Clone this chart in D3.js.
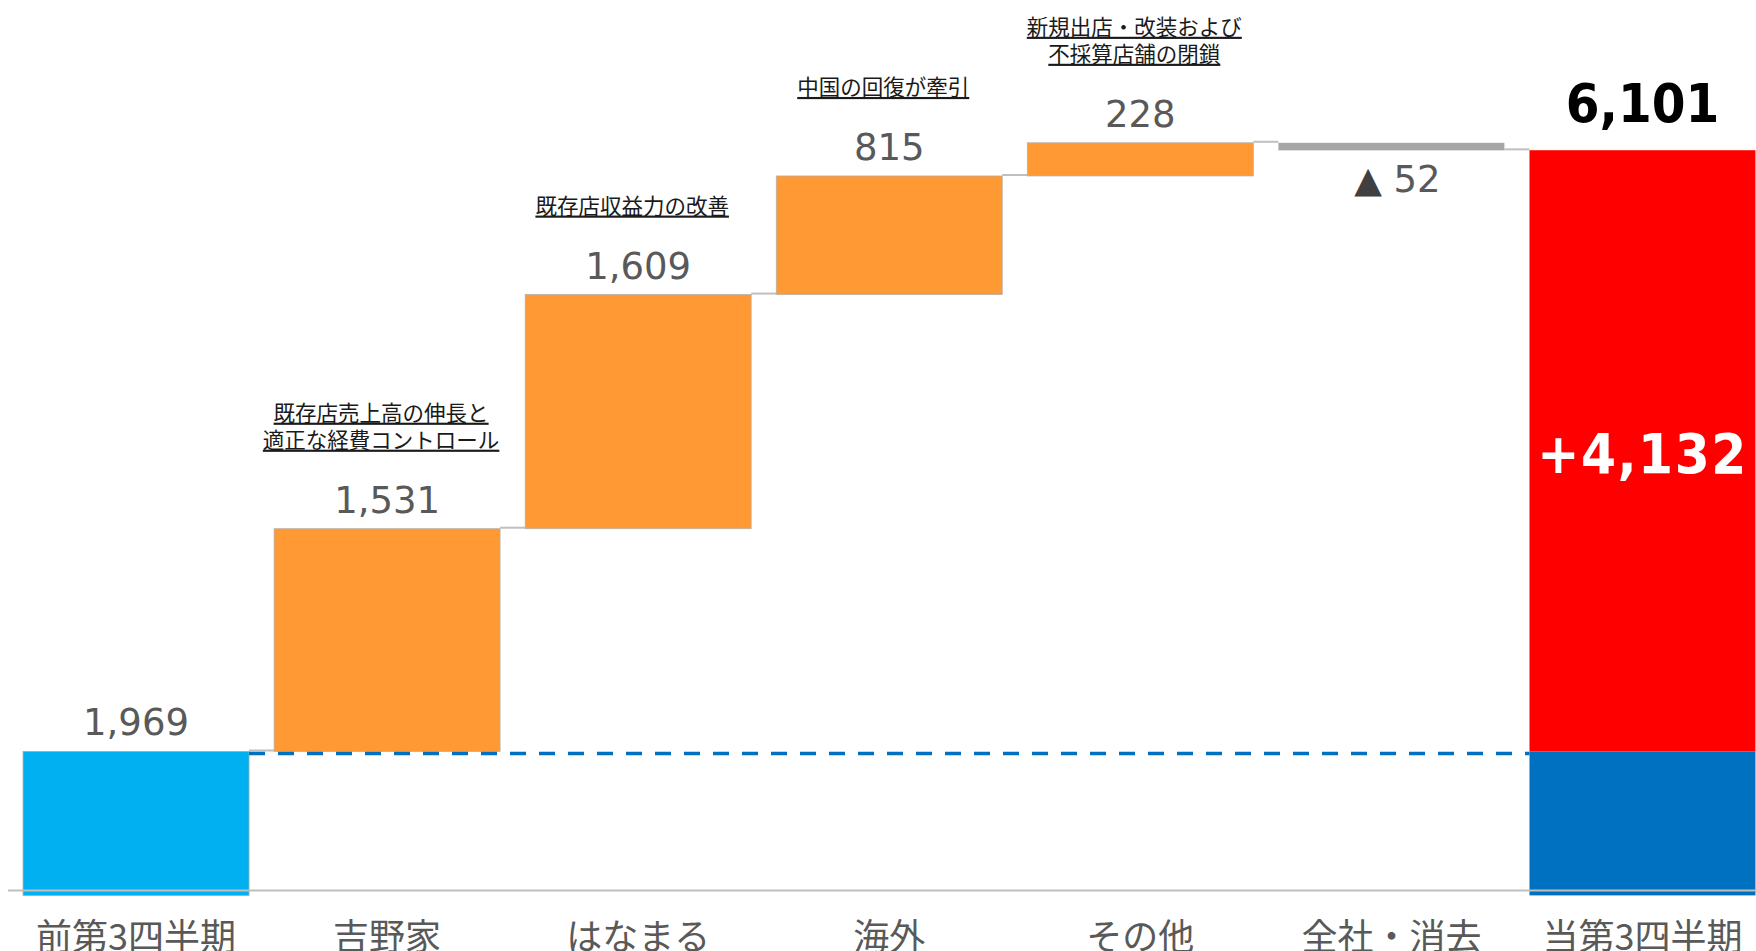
<!DOCTYPE html>
<html>
<head>
<meta charset="utf-8">
<script src="https://cdn.jsdelivr.net/npm/d3@7"></script>
<style>
  html, body { margin: 0; padding: 0; background: #fff; overflow: hidden; }
  svg { display: block; }
</style>
</head>
<body>
<svg id="chart" width="1756" height="951"></svg>
<script>
// ---- data ----
const categories = ["前第3四半期", "吉野家", "はなまる", "海外", "その他", "全社・消去", "当第3四半期"];
const startValue = 1969;
const changes = [1531, 1609, 815, 228, -52];
const endValue = 6101;
const increaseValue = 4132;
const notes = [
  [],
  ["既存店売上高の伸長と", "適正な経費コントロール"],
  ["既存店収益力の改善"],
  ["中国の回復が牽引"],
  ["新規出店・改装および", "不採算店舗の閉鎖"],
  [],
  []
];

// ---- layout ----
const W = 1756, H = 951;
const svg = d3.select("#chart");
const x = d3.scaleBand().domain(categories).range([10.5, 1768]).paddingInner(0.1).paddingOuter(0.05);
const y = d3.scaleLinear().domain([980, 7000]).range([895.4, 19.4]);
const bw = x.bandwidth();

const numFont = "'DejaVu Sans', Verdana, sans-serif";
const jpFont = "'Noto Sans CJK JP', 'Noto Sans', sans-serif";
const fmt = d3.format(",");

// cumulative steps
const steps = [];
let cum = startValue;
changes.forEach((c, i) => {
  steps.push({ cat: categories[i + 1], from: cum, to: cum + c, value: c, notes: notes[i + 1] });
  cum += c;
});

// connectors
const levels = [startValue].concat(steps.map(s => s.to));
const connG = svg.append("g");
levels.forEach((lv, i) => {
  connG.append("line")
    .attr("x1", x(categories[i]) + bw).attr("x2", x(categories[i + 1]))
    .attr("y1", y(lv) - 1).attr("y2", y(lv) - 1)
    .attr("stroke", "#BFBFBF").attr("stroke-width", 2);
});

// first bar
svg.append("rect")
  .attr("x", x(categories[0])).attr("width", bw)
  .attr("y", y(startValue)).attr("height", y.range()[0] - y(startValue))
  .attr("fill", "#00B0F0").attr("stroke", "#A9A9A9").attr("stroke-width", 0.8);

// change bars
svg.append("g").selectAll("rect").data(steps).join("rect")
  .attr("x", d => x(d.cat)).attr("width", bw)
  .attr("y", d => y(Math.max(d.from, d.to)))
  .attr("height", d => Math.abs(y(d.from) - y(d.to)))
  .attr("fill", d => d.value >= 0 ? "#FF9933" : "#A6A6A6")
  .attr("stroke", d => d.value >= 0 ? "#B8B0A8" : "none").attr("stroke-width", 0.8);

// final stacked bar
const last = categories[categories.length - 1];
svg.append("rect")
  .attr("x", x(last)).attr("width", bw)
  .attr("y", y(startValue)).attr("height", y.range()[0] - y(startValue))
  .attr("fill", "#0070C0");
svg.append("rect")
  .attr("x", x(last)).attr("width", bw)
  .attr("y", y(endValue)).attr("height", y(startValue) - y(endValue))
  .attr("fill", "#FF0000");

// dashed reference line
svg.append("line")
  .attr("x1", x(categories[0]) + bw).attr("x2", x(last))
  .attr("y1", y(startValue) + 2).attr("y2", y(startValue) + 2)
  .attr("stroke", "#0070C0").attr("stroke-width", 3.5)
  .attr("stroke-dasharray", "16,13");

// baseline axis
svg.append("line")
  .attr("x1", 8).attr("x2", W)
  .attr("y1", y.range()[0] - 5).attr("y2", y.range()[0] - 5)
  .attr("stroke", "#BFBFBF").attr("stroke-width", 2);

// category labels
svg.append("g").selectAll("text").data(categories).join("text")
  .attr("x", d => x(d) + bw / 2).attr("y", 950)
  .attr("text-anchor", "middle")
  .attr("font-family", jpFont).attr("font-size", 36)
  .attr("fill", "#595959")
  .text(d => d);

// value label first bar
svg.append("text")
  .attr("x", x(categories[0]) + bw / 2).attr("y", y(startValue) - 16)
  .attr("text-anchor", "middle")
  .attr("font-family", numFont).attr("font-size", 37).attr("fill", "#595959")
  .text(fmt(startValue));

// value labels for change bars
steps.forEach(s => {
  const cx = x(s.cat) + bw / 2;
  if (s.value >= 0) {
    svg.append("text")
      .attr("x", cx).attr("y", y(s.to) - 16)
      .attr("text-anchor", "middle")
      .attr("font-family", numFont).attr("font-size", 37).attr("fill", "#595959")
      .text(fmt(s.value));
  } else {
    const t = svg.append("text")
      .attr("x", cx + 6).attr("y", y(s.to) + 42)
      .attr("text-anchor", "middle")
      .attr("font-family", numFont).attr("font-size", 37).attr("fill", "#595959");
    t.append("tspan").attr("fill", "#404040").attr("font-size", 36).text("▲");
    t.append("tspan").text(" " + fmt(Math.abs(s.value)));
  }
  // annotations (one text element, one tspan per line)
  const top = y(Math.max(s.from, s.to));
  const n = s.notes.length;
  if (n) {
    const t = svg.append("text")
      .attr("text-anchor", "middle")
      .attr("font-family", jpFont).attr("font-size", 21.5)
      .attr("fill", "#1A1A1A")
      .attr("text-decoration", "underline");
    s.notes.forEach((line, j) => {
      t.append("tspan")
        .attr("x", cx - 6).attr("y", top - 81 - (n - 1 - j) * 27)
        .text(line);
    });
  }
});

// final labels
const lcx = x(last) + bw / 2;
svg.append("text")
  .attr("x", lcx).attr("y", y(endValue) - 28)
  .attr("text-anchor", "middle")
  .attr("font-family", "'DejaVu Sans Condensed', 'DejaVu Sans', sans-serif")
  .attr("font-stretch", "condensed")
  .attr("font-weight", "bold").attr("font-size", 54).attr("fill", "#000")
  .text(fmt(endValue));
svg.append("text")
  .attr("x", lcx).attr("y", (y(startValue) + y(endValue)) / 2 + 22)
  .attr("text-anchor", "middle")
  .attr("font-family", "'DejaVu Sans Condensed', 'DejaVu Sans', sans-serif")
  .attr("font-stretch", "condensed")
  .attr("font-weight", "bold").attr("font-size", 56).attr("fill", "#fff")
  .attr("letter-spacing", 1.5)
  .text("+" + fmt(increaseValue));
</script>
</body>
</html>
